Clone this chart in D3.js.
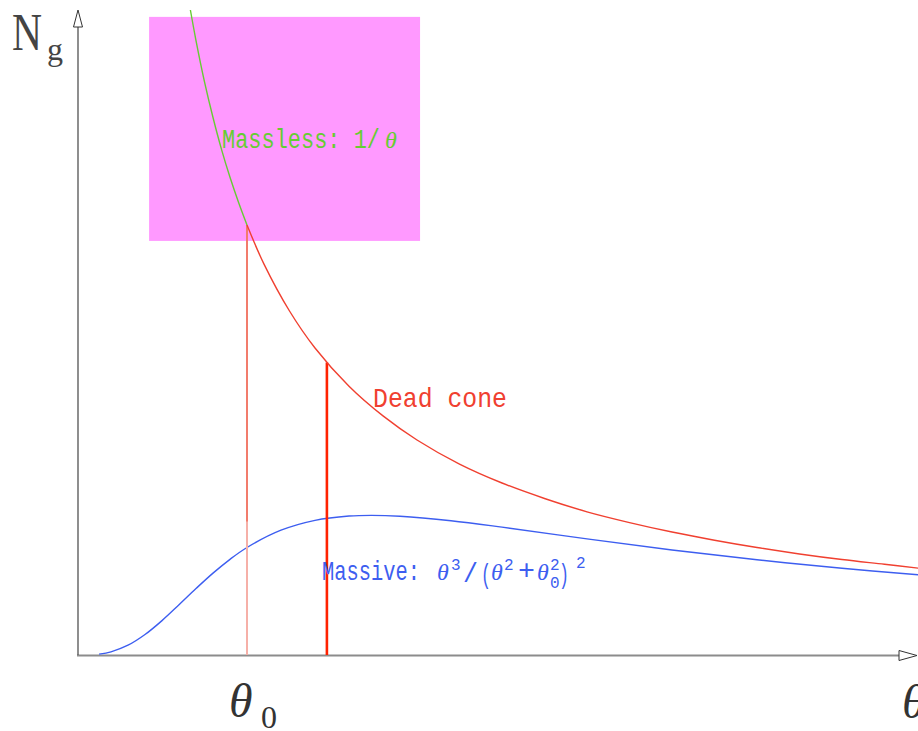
<!DOCTYPE html>
<html>
<head>
<meta charset="utf-8">
<script src="https://cdn.jsdelivr.net/npm/d3@7"></script>
<style>
  html, body { margin: 0; padding: 0; background: #fff; }
  svg { display: block; }
</style>
</head>
<body>
<svg id="chart" width="918" height="731"></svg>
<script>
// Gluon emission spectrum vs. angle, in units of the dead-cone angle theta0.

// Massless emitter: N ~ 1/theta (shown up to theta0)
const masslessTheta = [0.667, 0.70, 0.75, 0.80, 0.85, 0.90, 0.95, 1.00];
const masslessN     = [1.500, 1.429, 1.333, 1.250, 1.176, 1.111, 1.053, 1.000];

// Dead-cone bound: 1/theta beyond theta0
const deadTheta = [1.00, 1.10, 1.25, 1.40, 1.60, 1.80, 2.00, 2.25, 2.50, 2.75, 3.00, 3.25, 3.50, 3.75, 4.00, 4.25, 4.50, 4.75, 4.95];
const deadN     = [1.000, 0.909, 0.800, 0.714, 0.625, 0.556, 0.500, 0.444, 0.400, 0.364, 0.333, 0.308, 0.286, 0.267, 0.250, 0.235, 0.222, 0.211, 0.202];

// Massive emitter: theta^3 / (theta^2 + theta0^2)^2
const massiveTheta = [0.13, 0.20, 0.30, 0.40, 0.50, 0.60, 0.70, 0.80, 0.90, 1.00, 1.20, 1.40, 1.60, 1.732, 1.90, 2.20, 2.50, 3.00, 3.50, 4.00, 4.50, 4.95];
const massiveN     = [0.002, 0.0074, 0.0227, 0.0476, 0.080, 0.1168, 0.1545, 0.1904, 0.2225, 0.250, 0.2902, 0.3132, 0.3232, 0.3248, 0.3227, 0.3122, 0.2973, 0.270, 0.2442, 0.2215, 0.2018, 0.1865];

// Markers at theta0 and at a larger angle, drawn up to the 1/theta bound
const markerTheta = [1.00, 1.47];
const markerTop   = [1.00, 0.680];
const markerSplit = 0.31;   // level where the theta0 marker changes shade

// Shaded region (theta range, N range)
const boxTheta = [0.424, 2.018];
const boxN     = [0.963, 1.484];

// Axis extents
const thetaDomain = [0, 4.947];
const nDomain = [0, 1.5];

const svg = d3.select("#chart");
const x = d3.scaleLinear().domain(thetaDomain).range([77, 918]);
const y = d3.scaleLinear().domain(nDomain).range([655, 10]);

const line = d3.line()
  .x(d => x(d[0]))
  .y(d => y(d[1]))
  .curve(d3.curveCatmullRom.alpha(0.5));

// shaded box
svg.append("rect")
  .attr("x", x(boxTheta[0]))
  .attr("y", y(boxN[1]))
  .attr("width", x(boxTheta[1]) - x(boxTheta[0]))
  .attr("height", y(boxN[0]) - y(boxN[1]))
  .attr("fill", "#ff99ff");

// x axis (no ticks), grey rule
const xAxis = svg.append("g")
  .attr("transform", `translate(0,${y(0) + 0.5})`)
  .call(d3.axisBottom(x).tickValues([]).tickSizeOuter(0));
xAxis.select(".domain")
  .attr("stroke", "#8c8c8c")
  .attr("stroke-width", 2.2)
  .attr("d", `M${x(0)},0H${x(4.947) - 16}`);

// y axis (no ticks)
const yAxis = svg.append("g")
  .attr("transform", `translate(${x(0) + 1},0)`)
  .call(d3.axisLeft(y).tickValues([]).tickSizeOuter(0));
yAxis.select(".domain")
  .attr("stroke", "#444")
  .attr("stroke-width", 1.2)
  .attr("d", `M0,${y(0)}V${y(1.5) + 17}`);

// massive curve
svg.append("path")
  .datum(massiveTheta.map((t, i) => [t, massiveN[i]]))
  .attr("d", line)
  .attr("fill", "none")
  .attr("stroke", "#3d5ef0")
  .attr("stroke-width", 1.4);

// marker at theta0: lower pale part and upper salmon part
svg.append("line")
  .attr("x1", x(markerTheta[0])).attr("x2", x(markerTheta[0]))
  .attr("y1", y(0)).attr("y2", y(markerSplit))
  .attr("stroke", "#f6b0a8").attr("stroke-width", 2);
svg.append("line")
  .attr("x1", x(markerTheta[0])).attr("x2", x(markerTheta[0]))
  .attr("y1", y(markerSplit)).attr("y2", y(markerTop[0]))
  .attr("stroke", "#f27c6c").attr("stroke-width", 2);

// second marker
svg.append("line")
  .attr("x1", x(markerTheta[1])).attr("x2", x(markerTheta[1]))
  .attr("y1", y(0)).attr("y2", y(markerTop[1]))
  .attr("stroke", "#ff2200").attr("stroke-width", 2.6);

// dead-cone curve
svg.append("path")
  .datum(deadTheta.map((t, i) => [t, deadN[i]]))
  .attr("d", line)
  .attr("fill", "none")
  .attr("stroke", "#f04030")
  .attr("stroke-width", 1.4);

// massless curve
svg.append("path")
  .datum(masslessTheta.map((t, i) => [t, masslessN[i]]))
  .attr("d", line)
  .attr("fill", "none")
  .attr("stroke", "#66cc33")
  .attr("stroke-width", 1.4);

// arrowheads
const xEnd = x(4.947);
svg.append("path")
  .attr("d", `M${xEnd - 19},${y(0) - 4.5}L${xEnd - 1},${y(0) + 0.5}L${xEnd - 19},${y(0) + 5.5}Z`)
  .attr("fill", "#fff").attr("stroke", "#333").attr("stroke-width", 1);
const yx = x(0) + 1;
svg.append("path")
  .attr("d", `M${yx - 4.5},${y(1.5) + 17}L${yx},${y(1.5)}L${yx + 4.5},${y(1.5) + 17}Z`)
  .attr("fill", "#fff").attr("stroke", "#333").attr("stroke-width", 1);

// ----- text -----
const mono = "'Liberation Mono', 'DejaVu Sans Mono', monospace";
const serif = "'Liberation Serif', 'DejaVu Serif', serif";

// A label built from pieces: [string, dx, dy, size, family, italic, textLength]
function label(px, py, color, pieces) {
  const t = svg.append("text").attr("fill", color);
  pieces.forEach(([s, dx, dy, size, fam, it, len]) => {
    const sp = t.append("tspan")
      .attr("x", px + dx).attr("y", py + dy)
      .attr("font-family", fam === "serif" ? serif : mono)
      .attr("font-size", size)
      .text(s);
    if (it) sp.attr("font-style", "italic");
    if (len) sp.attr("textLength", len).attr("lengthAdjust", "spacingAndGlyphs");
  });
  return t;
}

// axis titles
label(12, 50, "#444", [["N", 0, 0, 52, "serif", false, 30], ["g", 35, 10, 32, "serif", false, 16]]);
label(229, 717, "#333", [["θ", 0, 0, 48, "serif", true], ["0", 32, 11, 32, "serif", false, 16]]);
label(902, 718, "#333", [["θ", 0, 0, 48, "serif", true]]);

// series labels
const green = "#66cc33", red = "#f04030", blue = "#3d5ef0";
label(222, 148, green, [
  ["Massless: 1/", 0, 0, 27, "mono", false, 158],
  ["θ", 163, 0, 24, "serif", true]
]);

label(373, 407, red, [["Dead cone", 0, 0, 28, "mono", false, 134]]);

label(322, 580, blue, [
  ["Massive:", 0, 0, 28, "mono", false, 98],
  ["θ", 115, 0, 24, "serif", true],
  ["3", 129, -10, 16, "mono"],
  ["/", 141, 2, 28, "mono", false, 15],
  ["(", 159, 3, 28, "mono", false, 10],
  ["θ", 169, 0, 24, "serif", true],
  ["2", 182, -10, 16, "mono"],
  ["+", 196, -1, 28, "mono", false, 17],
  ["θ", 215, 0, 24, "serif", true],
  ["2", 228, -10, 16, "mono"],
  ["0", 228, 8, 16, "mono"],
  [")", 237, 3, 28, "mono", false, 10],
  ["2", 254, -12, 16, "mono"]
]);
</script>
</body>
</html>
